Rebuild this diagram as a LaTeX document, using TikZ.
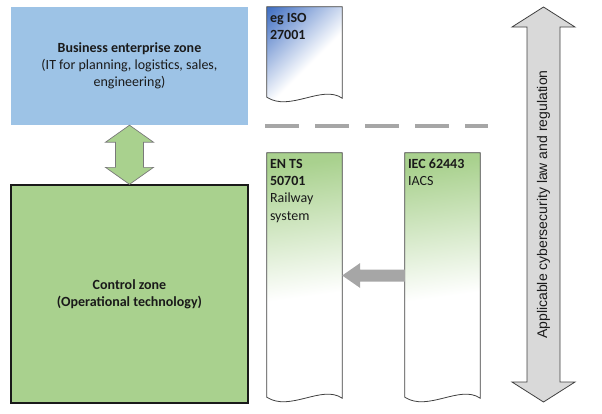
\documentclass[tikz,border=0pt]{standalone}
\usepackage{fontspec}
\setmainfont{Carlito}
\newfontfamily\arialfont{Liberation Sans}
\usetikzlibrary{calc}
\definecolor{bizblue}{HTML}{9DC3E6}
\definecolor{ctrlgreen}{HTML}{A9D18E}
\definecolor{docgreen}{HTML}{A9D18E}
\definecolor{isoblue}{HTML}{4472C4}
\definecolor{arrowgray}{HTML}{A6A6A6}
\definecolor{lawgray}{HTML}{D9D9D9}
\definecolor{edgegray}{HTML}{404040}
\definecolor{txt}{HTML}{1A1A1A}
\pgfdeclareverticalshading{greenfade}{100bp}{color(0bp)=(white); color(47bp)=(white); color(75bp)=(docgreen); color(100bp)=(docgreen)}
\pgfdeclareverticalshading{bluefade}{100bp}{color(0bp)=(white); color(46bp)=(white); color(84bp)=(isoblue); color(100bp)=(isoblue)}
\tikzset{
  zonebox/.style={inner sep=0pt, align=center, text=txt, font=\fontsize{14}{17}\selectfont},
  docline/.style={draw=edgegray, line width=0.8pt},
  doctext/.style={anchor=north west, inner sep=0pt, align=left, text=txt, font=\fontsize{14}{17.3}\selectfont},
  docbody/.style={inner sep=0pt, minimum width=75pt},
  greenarrow/.style={fill=ctrlgreen, draw=edgegray!70, line width=0.7pt, line join=miter},
  grayarrow/.style={fill=arrowgray},
  lawarrow/.style={fill=lawgray, draw=edgegray, line width=0.8pt},
  dashline/.style={draw=arrowgray, line width=4pt, dash pattern=on 34pt off 16pt}
}
\begin{document}
\begin{tikzpicture}[x=1pt, y=-1pt]
\useasboundingbox (0,0) rectangle (602,413);
% zones
\node[zonebox, fill=bizblue, minimum width=237pt, minimum height=118pt] (biz) at (129.5,66) {\textbf{Business enterprise zone}\\(IT for planning, logistics, sales,\\engineering)};
\node[zonebox, fill=ctrlgreen, draw=txt, line width=1.3pt, minimum width=237pt, minimum height=218pt] (ctrl) at (129.5,294) {\textbf{Control zone}\\\textbf{(Operational technology)}};
% green double arrow
\draw[greenarrow] (biz.south) -- ++(24,17) -- ++(-10,0) -- ($(ctrl.north)+(14,-17)$) -- ++(10,0) -- (ctrl.north) -- ++(-24,-17) -- ++(10,0) -- ($(biz.south)+(-14,17)$) -- ++(-10,0) -- cycle;
% dashed separator
\coordinate (dashL) at (265,126);
\coordinate (dashR) at (488,126);
\draw[dashline] (dashL) -- (dashR);
% document bodies
\node[docbody, minimum height=91pt] (iso) at (304.5,52.5) {};
\node[docbody, minimum height=245pt] (ents) at (304.5,275.5) {};
\node[docbody, minimum height=245pt] (iec) at (442.5,275.5) {};
\path[docline, shade, shading=bluefade, shading angle=45] (iso.north west) -- (iso.north east) -- ($(iso.south east)+(0,0)$) .. controls ($(iso.south east)+(-20,-14)$) and ($(iso.south west)+(23,14)$) .. ($(iso.south west)+(0,-1)$) -- cycle;
\path[docline, shade, shading=greenfade, shading angle=8] (ents.north west) -- (ents.north east) -- (ents.south east) .. controls ($(ents.south east)+(-20,-14)$) and ($(ents.south west)+(23,14)$) .. ($(ents.south west)+(0,-1)$) -- cycle;
\path[docline, shade, shading=greenfade, shading angle=8] (iec.north west) -- (iec.north east) -- (iec.south east) .. controls ($(iec.south east)+(-20,-14)$) and ($(iec.south west)+(23,14)$) .. ($(iec.south west)+(0,-1)$) -- cycle;
% document texts
\node[doctext] (isotext) at ($(iso.north west)+(3,6)$) {\textbf{eg ISO}\\\textbf{27001}};
\node[doctext] (entstext) at ($(ents.north west)+(3,6)$) {\textbf{EN TS}\\\textbf{50701}\\Railway\\system};
\node[doctext] (iectext) at ($(iec.north west)+(3,6)$) {\textbf{IEC 62443}\\IACS};
% gray arrow from IEC to EN TS
\fill[grayarrow] (ents.east) -- ++(18,-12.5) -- ++(0,6.5) -- ($(iec.west)+(0,-6)$) -- ++(0,12) -- ($(ents.east)+(18,6)$) -- ++(0,6.5) -- cycle;
% law double arrow
\coordinate (lawtop) at (543.5,7);
\coordinate (lawbot) at (543.5,402);
\draw[lawarrow] (lawtop) -- ++(31.5,20) -- ++(-15,0) -- ($(lawbot)+(16.5,-20)$) -- ++(15,0) -- (lawbot) -- ++(-31.5,-20) -- ++(15,0) -- ($(lawtop)+(-16.5,20)$) -- ++(-15,0) -- cycle;
\node[rotate=90, inner sep=0pt, text=txt, font=\arialfont\fontsize{14}{16}\selectfont] (lawtext) at ($(lawtop)!0.5!(lawbot)$) {Applicable cybersecurity law and regulation};
\end{tikzpicture}
\end{document}
